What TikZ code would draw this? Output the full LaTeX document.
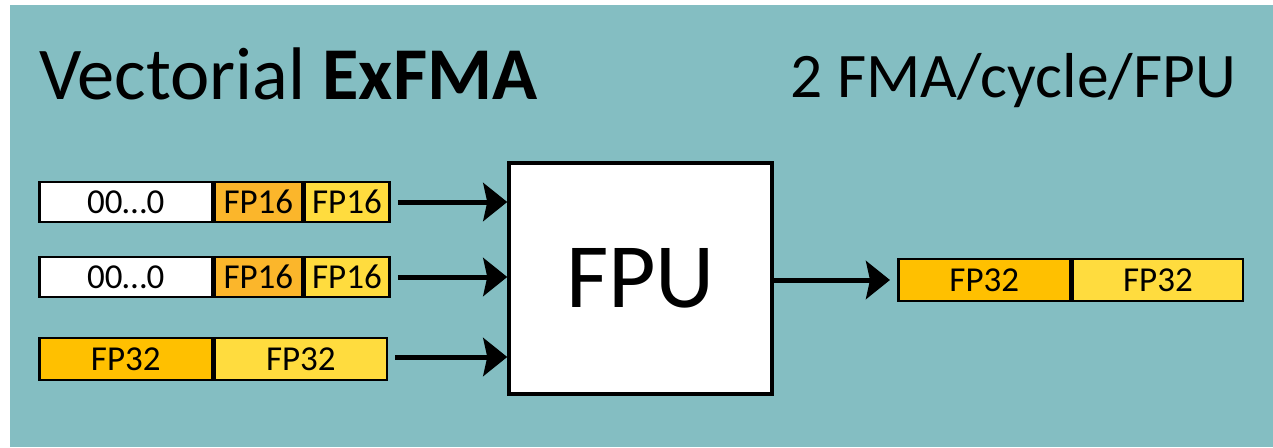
\documentclass[tikz,border=0pt]{standalone}
\usepackage{fontspec}
\setmainfont{Carlito}
\usetikzlibrary{arrows.meta}
\definecolor{teal0}{HTML}{84BEC2}
\definecolor{orng}{HTML}{FFC000}
\definecolor{orng16}{HTML}{FBB62B}
\definecolor{yell}{HTML}{FFDC3E}
\begin{document}
\begin{tikzpicture}[x=1pt,y=-1pt,
  cell/.style={draw=black,line width=2.6pt,inner sep=0pt,minimum height=40pt,font=\fontsize{35}{35}\selectfont,anchor=west},
  arr/.style={line width=5pt,-{Stealth[length=24pt,width=38pt,inset=4pt]}},
  title/.style={inner sep=0pt,anchor=base west,font=\fontsize{74.5}{74.5}\selectfont}]
\useasboundingbox (0,0) rectangle (1273,447);
\fill[white] (0,0) rectangle (1273,447);
\fill[teal0] (10,5) rectangle (1273,447);
\node[title] (t1) at (39,99) {Vectorial \textbf{ExFMA}};
\node[title,anchor=base east,font=\fontsize{63.5}{63.5}\selectfont] (t2) at (1236,97) {2 FMA/cycle/FPU};
% row 1
\node[cell,fill=white,minimum width=173pt] (a1) at (38,202) {00…0};
\node[cell,fill=orng16,minimum width=87pt] (a2) at (a1.east) {FP16};
\node[cell,fill=yell,minimum width=85pt] (a3) at (a2.east) {FP16};
% row 2
\node[cell,fill=white,minimum width=173pt] (b1) at (38,277) {00…0};
\node[cell,fill=orng16,minimum width=87pt] (b2) at (b1.east) {FP16};
\node[cell,fill=yell,minimum width=85pt] (b3) at (b2.east) {FP16};
% row 3
\node[cell,fill=orng,minimum width=173pt,minimum height=42pt] (c1) at (38,359) {FP32};
\node[cell,fill=yell,minimum width=172pt,minimum height=42pt] (c2) at (c1.east) {FP32};
% FPU
\node[draw=black,fill=white,line width=3.5pt,minimum width=263pt,minimum height=231pt,inner sep=0pt,font=\fontsize{92}{92}\selectfont] (fpu) at (640.5,278.5) {FPU};
% output
\node[cell,fill=orng,minimum width=172pt,minimum height=42pt] (o1) at (897,280) {FP32};
\node[cell,fill=yell,minimum width=170pt,minimum height=42pt] (o2) at (o1.east) {FP32};
% arrows
\draw[arr] ([xshift=7pt]a3.east) -- (a3.east -| fpu.west);
\draw[arr] ([xshift=7pt]b3.east) -- (b3.east -| fpu.west);
\draw[arr] ([xshift=7pt,yshift=2pt]c2.east) -- ([yshift=2pt]c2.east -| fpu.west);
\draw[arr] (fpu.east |- o1.west) -- ([xshift=-7pt]o1.west);
\end{tikzpicture}
\end{document}
